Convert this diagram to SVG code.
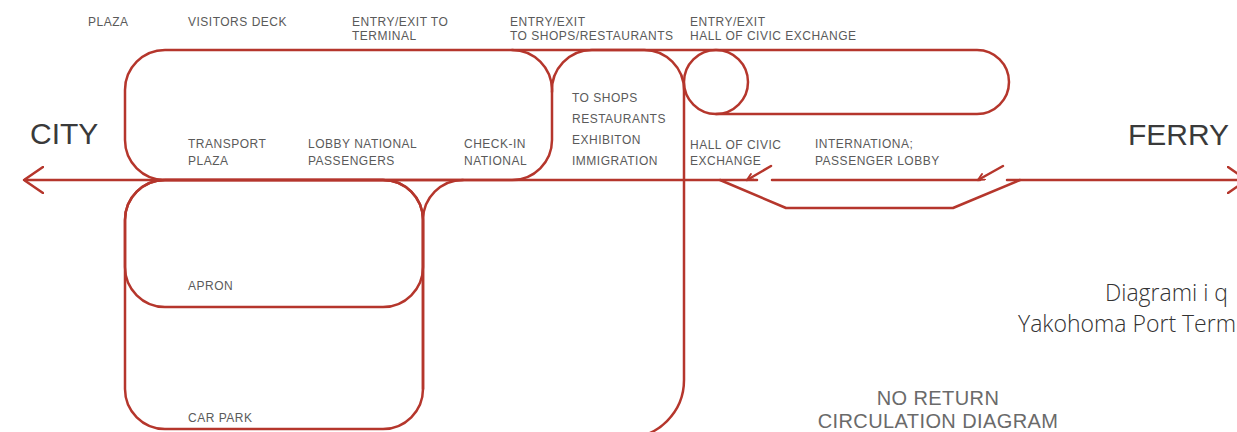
<svg xmlns="http://www.w3.org/2000/svg" width="1237" height="432" viewBox="0 0 1237 432">
  <defs>
    <style>
      .route { fill: none; stroke: #b5362c; stroke-width: 2.5; stroke-linejoin: round; stroke-linecap: round; }
      .lbl { font-family: "Liberation Sans", Arial, sans-serif; font-size: 12px; fill: #5a5a5a; letter-spacing: 0.5px; }
      .end { font-family: "Liberation Sans", Arial, sans-serif; font-size: 30px; fill: #3a3a3a; }
      .title { font-family: "Liberation Sans", Arial, sans-serif; font-size: 20px; fill: #6a6a6a; letter-spacing: 0.4px; text-anchor: middle; }
      .caption { font-family: "Open Sans", "Noto Sans", sans-serif; font-weight: 300; font-size: 23px; fill: #333; }
    </style>
    <!-- open chevron at the ends of the main route -->
    <marker id="chevron" viewBox="0 0 20 28" refX="20" refY="14" markerWidth="20" markerHeight="28" markerUnits="userSpaceOnUse" orient="auto-start-reverse">
      <path d="M1,1 L20,14 L1,27" fill="none" stroke="#b5362c" stroke-width="2.5" stroke-linecap="round" stroke-linejoin="round"/>
    </marker>
    <!-- small one-way tick on the gates -->
    <marker id="tick" viewBox="0 0 10 10" refX="9" refY="5" markerWidth="8" markerHeight="8" markerUnits="userSpaceOnUse" orient="auto">
      <path d="M1,1 L9,5 L1,9" fill="none" stroke="#b5362c" stroke-width="2.4" stroke-linecap="round"/>
    </marker>
  </defs>

  <rect width="1237" height="432" fill="#ffffff"/>

  <!-- upper terminal loop (roof / visitors deck) -->
  <g id="terminal">
    <rect class="route" x="125" y="50" width="427" height="130" rx="40" ry="40"/>
    <text class="lbl" x="188" y="148">TRANSPORT</text>
    <text class="lbl" x="188" y="165">PLAZA</text>
    <text class="lbl" x="308" y="148">LOBBY NATIONAL</text>
    <text class="lbl" x="308" y="165">PASSENGERS</text>
    <text class="lbl" x="464" y="148">CHECK-IN</text>
    <text class="lbl" x="464" y="165">NATIONAL</text>
  </g>

  <!-- shops / restaurants loop -->
  <g id="shops">
    <path class="route" d="M552,92 A40,40 0 0 1 592,50 H643 A40,40 0 0 1 684,91 V180"/>
    <text class="lbl" x="572" y="102">TO SHOPS</text>
    <text class="lbl" x="572" y="123">RESTAURANTS</text>
    <text class="lbl" x="572" y="144">EXHIBITON</text>
    <text class="lbl" x="572" y="165">IMMIGRATION</text>
  </g>

  <!-- lower loop under the shops -->
  <g id="shops-lower">
    <path class="route" d="M684,180 V380 A58,58 0 0 1 626,438"/>
    <path class="route" d="M463,180 A40,40 0 0 0 423,220 V389"/>
  </g>

  <!-- hall of civic exchange loop -->
  <g id="civic-exchange">
    <circle class="route" cx="716" cy="82" r="32"/>
    <path class="route" d="M716,114 H977 A32,32 0 0 0 977,50 H512"/>
    <text class="lbl" x="690" y="149">HALL OF CIVIC</text>
    <text class="lbl" x="690" y="165">EXCHANGE</text>
  </g>

  <!-- apron loop -->
  <g id="apron">
    <rect class="route" x="125" y="180" width="298" height="127" rx="40" ry="40"/>
    <text class="lbl" x="188" y="290">APRON</text>
  </g>

  <!-- car park loop -->
  <g id="car-park">
    <rect class="route" x="125" y="180" width="298" height="249" rx="40" ry="40"/>
    <text class="lbl" x="188" y="422">CAR PARK</text>
  </g>

  <!-- international lobby -->
  <g id="international-lobby">
    <text class="lbl" x="815" y="148">INTERNATIONA;</text>
    <text class="lbl" x="815" y="165">PASSENGER LOBBY</text>
  </g>

  <!-- main route, bypass and one-way gates -->
  <g id="connectors">
    <path class="route" d="M24,180 H757" marker-start="url(#chevron)"/>
    <path class="route" d="M772,180 H980"/>
    <path class="route" d="M1007,180 H1247" marker-end="url(#chevron)"/>
    <path class="route" d="M720,180 L786,208 H953 L1020,180"/>
    <path class="route" d="M771,166 L747,180" marker-end="url(#tick)"/>
    <path class="route" d="M1003,166 L978,180" marker-end="url(#tick)"/>
  </g>

  <!-- entry / exit labels along the top -->
  <g id="top-labels">
    <text class="lbl" x="88" y="26">PLAZA</text>
    <text class="lbl" x="188" y="26">VISITORS DECK</text>
    <text class="lbl" x="352" y="26">ENTRY/EXIT TO</text>
    <text class="lbl" x="352" y="40">TERMINAL</text>
    <text class="lbl" x="510" y="26">ENTRY/EXIT</text>
    <text class="lbl" x="510" y="40">TO SHOPS/RESTAURANTS</text>
    <text class="lbl" x="690" y="26">ENTRY/EXIT</text>
    <text class="lbl" x="690" y="40">HALL OF CIVIC EXCHANGE</text>
  </g>

  <g id="city">
    <text class="end" x="30" y="144">CITY</text>
  </g>
  <g id="ferry">
    <text class="end" x="1128" y="145">FERRY</text>
  </g>

  <g id="titles">
    <text class="title" x="938" y="405">NO RETURN</text>
    <text class="title" x="938" y="428">CIRCULATION DIAGRAM</text>
    <text class="caption" x="1105" y="301">Diagrami i q</text>
    <text class="caption" x="1018" y="332">Yakohoma Port Term</text>
  </g>
</svg>
